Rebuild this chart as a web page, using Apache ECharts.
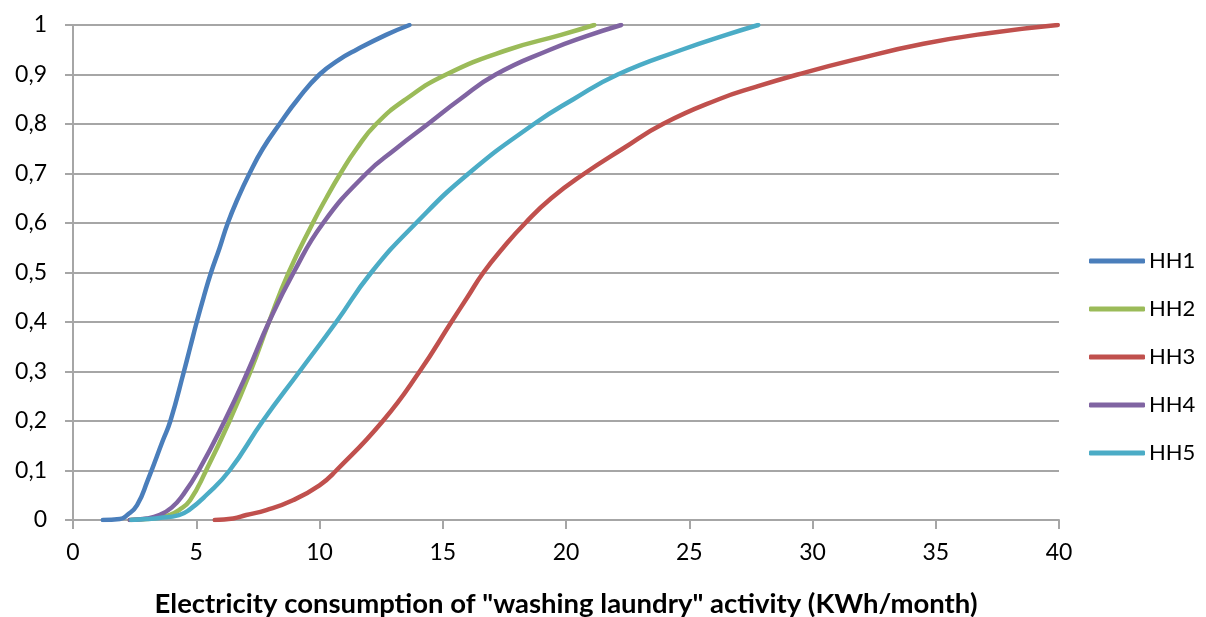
<!DOCTYPE html>
<html>
<head>
<meta charset="utf-8">
<script src="https://cdn.jsdelivr.net/npm/echarts@6/dist/echarts.min.js"></script>
<style>
html,body{margin:0;padding:0;background:#fff;}
#chart{width:1206px;height:617px;}
</style>
</head>
<body>
<div id="chart"></div>
<script>
// Data (cumulative distribution per household)
const seriesNames = ['HH1', 'HH2', 'HH3', 'HH4', 'HH5'];
const seriesColors = ['#4A7EBB', '#9BBB59', '#C0504D', '#8064A2', '#4BACC6'];

const hh1X = [1.21, 1.9, 2.2, 2.6, 3.03, 3.64, 3.95, 4.5, 4.76, 5.02, 5.3, 5.6, 5.95, 6.28, 6.69, 7.16, 7.7, 8.38, 9.12, 10.0, 10.8, 11.5, 12.7, 13.65];
const hh1Y = [0, 0.002, 0.01, 0.03, 0.08, 0.16, 0.2, 0.3, 0.35, 0.4, 0.45, 0.5, 0.55, 0.6, 0.65, 0.7, 0.75, 0.8, 0.85, 0.9, 0.93, 0.95, 0.98, 1.0];

const hh2X = [2.3, 3.0, 3.5, 3.9, 4.3, 4.75, 5.4, 6.35, 7.2, 7.95, 8.75, 9.73, 10.27, 10.85, 11.5, 12.3, 13.5, 15.14, 17.65, 19.8, 21.15];
const hh2Y = [0, 0.002, 0.005, 0.01, 0.02, 0.04, 0.1, 0.2, 0.3, 0.4, 0.5, 0.6, 0.65, 0.7, 0.75, 0.8, 0.85, 0.9, 0.95, 0.98, 1.0];

const hh3X = [5.75, 6.5, 7.03, 7.84, 8.92, 10.0, 10.68, 12.57, 14.06, 15.35, 16.0, 16.65, 17.45, 18.35, 19.4, 20.75, 22.3, 23.93, 26.2, 27.7, 29.4, 31.7, 34.5, 37.2, 39.95];
const hh3Y = [0, 0.003, 0.01, 0.02, 0.04, 0.07, 0.1, 0.2, 0.3, 0.4, 0.45, 0.5, 0.55, 0.6, 0.65, 0.7, 0.75, 0.8, 0.85, 0.875, 0.9, 0.93, 0.962, 0.984, 1.0];

const hh4X = [2.3, 3.0, 3.5, 4.0, 4.45, 5.1, 6.15, 7.09, 7.95, 8.95, 10.15, 11.9, 13.1, 14.4, 15.7, 17.15, 19.35, 20.8, 22.24];
const hh4Y = [0, 0.003, 0.01, 0.025, 0.05, 0.1, 0.2, 0.3, 0.4, 0.5, 0.6, 0.7, 0.75, 0.8, 0.85, 0.9, 0.95, 0.977, 1.0];

const hh5X = [2.36, 3.0, 3.5, 4.3, 4.7, 5.4, 6.35, 7.7, 9.19, 10.68, 12.1, 13.92, 16.05, 18.7, 20.3, 22.1, 24.7, 26.5, 27.8];
const hh5Y = [0, 0.002, 0.004, 0.01, 0.02, 0.05, 0.1, 0.2, 0.3, 0.4, 0.5, 0.6, 0.7, 0.8, 0.85, 0.9, 0.95, 0.98, 1.0];

const xAxisName = 'Electricity consumption of "washing laundry" activity (KWh/month)';
const xMin = 0, xMax = 40, xStep = 5;
const yMin = 0, yMax = 1, yStep = 0.1;

const allX = [hh1X, hh2X, hh3X, hh4X, hh5X];
const allY = [hh1Y, hh2Y, hh3Y, hh4Y, hh5Y];

const gray = '#A6A6A6';
const fontFam = 'Lato, "Open Sans", sans-serif';

const chart = echarts.init(document.getElementById('chart'), null, {renderer: 'canvas'});
const option = {
  animation: false,
  backgroundColor: '#fff',
  grid: {left: 73, right: 147, top: 25, bottom: 97, containLabel: false, outerBoundsMode: 'none'},
  legend: {
    orient: 'vertical',
    left: 1084,
    top: 243,
    itemWidth: 56,
    itemHeight: 5,
    itemGap: 22,
    icon: 'roundRect',
    textStyle: {fontSize: 22, fontFamily: fontFam, color: '#000', lineHeight: 26, padding: [0, 0, 0, -1]},
    data: seriesNames
  },
  xAxis: {
    type: 'value',
    min: xMin, max: xMax, interval: xStep,
    name: xAxisName,
    nameLocation: 'middle',
    nameGap: 70,
    nameTextStyle: {fontSize: 27.5, fontWeight: 'bold', fontFamily: fontFam, color: '#000'},
    axisLine: {show: true, lineStyle: {color: gray, width: 2}},
    axisTick: {show: true, length: 9, lineStyle: {color: gray, width: 2}},
    axisLabel: {fontSize: 23, fontFamily: fontFam, color: '#000', margin: 21},
    splitLine: {show: false}
  },
  yAxis: {
    type: 'value',
    min: yMin, max: yMax, interval: yStep,
    axisLine: {show: true, lineStyle: {color: gray, width: 2}},
    axisTick: {show: true, length: 8, lineStyle: {color: gray, width: 2}},
    axisLabel: {
      fontSize: 23, fontFamily: fontFam, color: '#000', margin: 26,
      formatter: v => String(Math.round(v * 10) / 10).replace('.', ',')
    },
    splitLine: {show: true, lineStyle: {color: gray, width: 2}}
  },
  series: seriesNames.map((name, i) => ({
    name: name,
    type: 'line',
    data: allX[i].map((x, j) => [x, allY[i][j]]),
    smooth: 0.5,
    showSymbol: false,
    symbol: 'none',
    color: seriesColors[i],
    lineStyle: {color: seriesColors[i], width: 4.5, cap: 'round', join: 'round'}
  }))
};
chart.setOption(option);
</script>
</body>
</html>
